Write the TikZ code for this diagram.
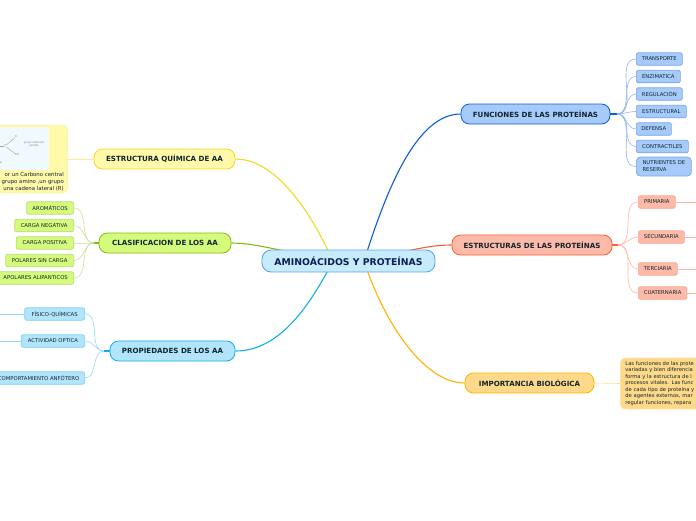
\documentclass[tikz,border=0pt]{standalone}
\usepackage{fontspec}
\setmainfont{DejaVu Sans}
\usetikzlibrary{backgrounds}
\definecolor{inktext}{HTML}{10252E}
\definecolor{roottext}{HTML}{0B1F4F}
\definecolor{rootfill}{HTML}{C5EBFD}
\definecolor{rootline}{HTML}{5FA8DC}
\definecolor{bluefill}{HTML}{A6CBFB}
\definecolor{blueline}{HTML}{0B5CD6}
\definecolor{redfill}{HTML}{FDBAA8}
\definecolor{redline}{HTML}{F65E38}
\definecolor{amberfill}{HTML}{FFD98A}
\definecolor{amberline}{HTML}{FFB300}
\definecolor{yellowfill}{HTML}{FFF9A9}
\definecolor{yellowline}{HTML}{F2D81E}
\definecolor{greenfill}{HTML}{D5FB7C}
\definecolor{greenline}{HTML}{82BC12}
\definecolor{skyfill}{HTML}{B2E5FB}
\definecolor{skyline}{HTML}{10AEEE}
\tikzset{
  rootnode/.style={draw=rootline, fill=rootfill, line width=0.9pt, rounded corners=9pt, minimum width=173pt, minimum height=22pt, inner sep=0pt, font=\fontsize{9.3}{10}\selectfont\bfseries, text=roottext},
  mainnode/.style={draw=#1line, fill=#1fill, line width=0.8pt, rounded corners=8.5pt, minimum height=20pt, inner sep=0pt, font=\fontsize{7.1}{8}\selectfont\bfseries, text=inktext},
  leafnode/.style={draw=#1line!55, fill=#1fill, line width=0.7pt, rounded corners=2pt, minimum height=12.5pt, inner sep=0pt, font=\fontsize{5.3}{7}\selectfont, text=inktext},
  bignode/.style={draw=#1line!35, fill=#1fill, line width=0.7pt, rounded corners=5pt, inner sep=0pt},
  link/.style={draw=#1line, line width=1.1pt},
  leaflink/.style={draw=#1line!45, line width=0.6pt},
}
\begin{document}
\begin{tikzpicture}[x=1pt, y=-1pt]
    \useasboundingbox (0,0) rectangle (696,520);

    % Centre
    \node[rootnode] (root) at (348.5,261) {AMINOÁCIDOS Y PROTEÍNAS};
    \coordinate (rootl) at (333,261);
    \coordinate (rootr) at (364,261);

    % Main branches
    \node[mainnode=blue, minimum width=149pt] (funciones) at (535.5,114) {FUNCIONES DE LAS PROTEÍNAS};
    \node[mainnode=red, minimum width=160pt] (estructuras) at (532,245) {ESTRUCTURAS DE LAS PROTEÍNAS};
    \node[mainnode=amber, minimum width=129pt] (importancia) at (529.5,383) {IMPORTANCIA BIOLÓGICA};
    \node[mainnode=yellow, minimum width=141pt] (quimica) at (164.5,159) {ESTRUCTURA QUÍMICA DE AA};
    \node[mainnode=green, minimum width=132pt] (clasificacion) at (165,243) {CLASIFICACION DE LOS AA};
    \node[mainnode=sky, minimum width=125pt] (propiedades) at (172.5,351) {PROPIEDADES DE LOS AA};

    % Leaves, right side
    \foreach \leaf/\y/\w/\txt in {transporte/59/46/TRANSPORTE, enzimatica/76.5/44/ENZIMATICA, regulacion/94/46/REGULACIÓN, estructural/111.5/50/ESTRUCTURAL, defensa/129/35/DEFENSA, contractiles/146.5/52/CONTRACTILES}
      \node[leafnode=blue, anchor=west, minimum width=\w pt] (\leaf) at (636,\y) {\txt};
    \node[leafnode=blue, anchor=west, minimum width=55pt, minimum height=19pt, rounded corners=4pt, align=left] (nutrientes) at (636,166.5) {NUTRIENTES DE\\RESERVA};
    \foreach \leaf/\y/\w/\txt in {primaria/202/37/PRIMARIA, secundaria/237/46/SECUNDARIA, terciaria/269/39/TERCIARIA, cuaternaria/293/48.5/CUATERNARIA}
      \node[leafnode=red, anchor=west, minimum width=\w pt] (\leaf) at (638,\y) {\txt};

    % Leaves, left side
    \foreach \leaf/\y/\w/\txt in {aromaticos/208/47/AROMÁTICOS, negativa/225.5/59/CARGA NEGATIVA, positiva/243/57.5/CARGA POSITIVA, polares/260.5/68/POLARES SIN CARGA, apolares/278/76/APOLARES ALIPANTICOS}
      \node[leafnode=green, anchor=east, minimum width=\w pt] (\leaf) at (74,\y) {\txt};
    \foreach \leaf/\y/\w/\txt in {fisico/314/60/FÍSICO-QUÍMICAS, actividad/341/63.5/ACTIVIDAD OPTICA, anfotero/378/92/COMPORTAMIENTO ANFÓTERO}
      \node[leafnode=sky, anchor=east, minimum width=\w pt] (\leaf) at (85,\y) {\txt};

    % Text boxes
    \node[bignode=amber, anchor=west, minimum height=51pt, text width=90pt, align=left, inner xsep=5pt, font=\fontsize{5.2}{6.5}\selectfont, text=inktext] (funcionestxt) at (620,383.5) {Las funciones de las prote\\variadas y bien diferencia\\forma y la estructura de l\\procesos vitales. Las func\\de cada tipo de proteína y\\de agentes externos, mar\\regular funciones, repara};
    \node[bignode=yellow, anchor=east, minimum width=90pt, minimum height=68pt] (quimicabox) at (68,159) {};
    \node[anchor=south east, align=right, inner sep=0pt, font=\fontsize{5.4}{6.7}\selectfont, text=inktext] (quimicatxt) at (64,191) {or un Carbono central\hspace{3pt}\\grupo amino ,un grupo\\una cadena lateral (R)};

    % Molecule picture
    \node[fill=cyan!6, anchor=north east, minimum width=55pt, minimum height=43pt, inner sep=0pt] (molecula) at (49,127) {};
    \begin{scope}[font=\fontsize{2.6}{3}\selectfont, text=gray, inner sep=0pt]
      \node (carbono) at (5,146) {C};
      \node (oxigeno) at (16,137) {O};
      \node (oh) at (17,155) {OH};
      \node[align=center] (carboxilo) at (34,144) {grupo carboxilo\\(ácido)};
      \node (radical) at (1,163) {al};
      \coordinate (arriba) at (-2,137);
      \draw[gray!70, line width=0.4pt] (carbono) -- (oxigeno);
      \draw[gray!70, line width=0.4pt] (carbono) -- (oh);
      \draw[gray!70, line width=0.4pt] (carbono) -- (-3,146);
      \draw[yellowline!60!green, line width=0.4pt] (0,138) -- (arriba);
    \end{scope}

    % Free ends
    \coordinate (primariaend) at (700,202);
    \coordinate (secundariaend) at (700,237);
    \coordinate (terciariaend) at (700,269);
    \coordinate (cuaternariaend) at (700,293);
    \coordinate (fisicoend) at (-4,314);
    \coordinate (actividadend) at (-4,341);
    \coordinate (bluehub) at (617,114);
    \coordinate (redhub) at (618,245);
    \coordinate (greenhub) at (94,243);
    \coordinate (skyhub) at (104,351);

    \begin{scope}[on background layer]
      % Edges from the centre
      \draw[link=blue] (rootr) .. controls (385,195) and (415,114) .. (funciones.west);
      \draw[link=red] (root.center) .. controls (410,252) and (425,245) .. (estructuras.west);
      \draw[link=amber] (rootr) .. controls (385,325) and (425,383) .. (importancia.west);
      \draw[link=yellow] (rootl) .. controls (310,210) and (275,159) .. (quimica.east);
      \draw[link=green] (root.center) .. controls (290,255) and (260,243) .. (clasificacion.east);
      \draw[link=sky] (rootl) .. controls (310,305) and (280,351) .. (propiedades.east);

      % Edges to the leaves
      \draw[link=blue] (funciones.east) -- (bluehub);
      \foreach \leaf in {transporte, enzimatica, regulacion, estructural, defensa, contractiles, nutrientes}
        \draw[leaflink=blue] (bluehub) to[out=0, in=180] (\leaf.west);
      \draw[link=red] (estructuras.east) -- (redhub);
      \foreach \leaf in {primaria, secundaria, terciaria, cuaternaria}
        \draw[leaflink=red] (redhub) to[out=0, in=180] (\leaf.west);
      \draw[link=green] (clasificacion.west) -- (greenhub);
      \foreach \leaf in {aromaticos, negativa, positiva, polares, apolares}
        \draw[leaflink=green] (greenhub) to[out=180, in=0] (\leaf.east);
      \draw[link=sky] (propiedades.west) -- (skyhub);
      \foreach \leaf in {fisico, actividad, anfotero}
        \draw[leaflink=sky] (skyhub) to[out=180, in=0] (\leaf.east);

      \foreach \leaf in {primaria, secundaria, terciaria, cuaternaria}
        \draw[leaflink=red] (\leaf.east) -- (\leaf end);
      \draw[leaflink=sky] (fisico.west) -- (fisicoend);
      \draw[leaflink=sky] (actividad.west) -- (actividadend);
      \draw[leaflink=amber] (importancia.east) -- (funcionestxt.west);
      \draw[leaflink=yellow] (quimica.west) -- (quimicabox.east);
    \end{scope}
\end{tikzpicture}
\end{document}
